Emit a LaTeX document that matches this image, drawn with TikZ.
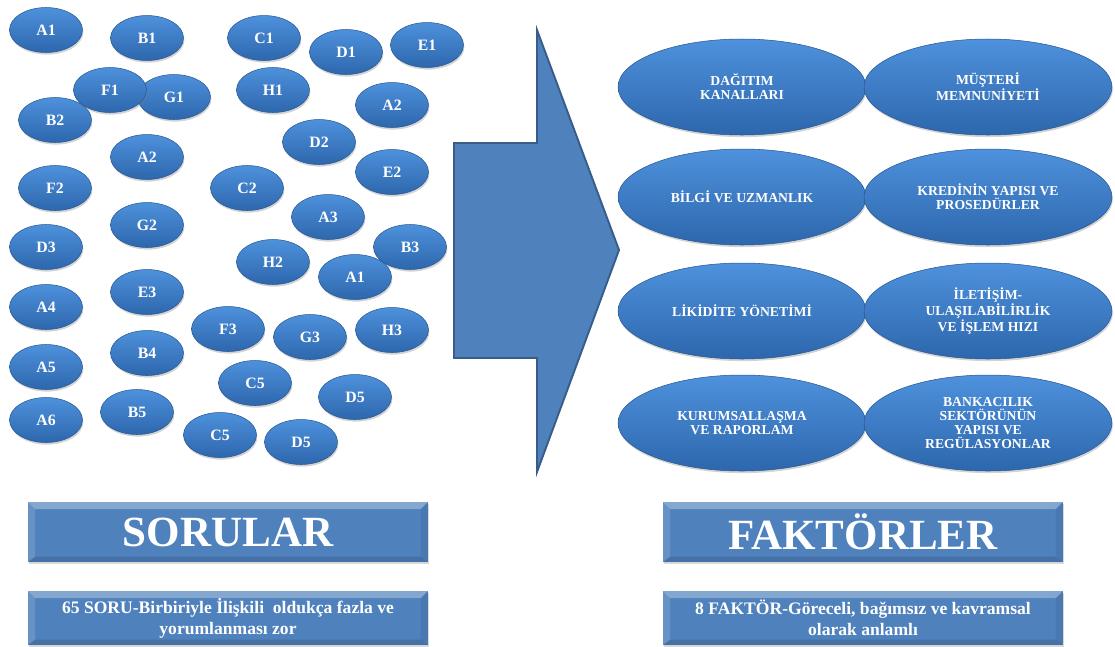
\documentclass[tikz,border=0pt]{standalone}
\usepackage{fontspec}
\setmainfont{Liberation Serif}
\usepackage{tikz}
\usetikzlibrary{shapes.geometric, shadows, positioning}
\definecolor{myblue}{HTML}{4F81BD}
\definecolor{mydarkblue}{HTML}{385D8A}
\definecolor{balltop}{HTML}{4E91DC}
\definecolor{ballbottom}{HTML}{2D67AD}
\tikzset{
	smallball/.style={ellipse, minimum width=1.46cm, minimum height=0.9cm, inner sep=0pt,
		top color=balltop, bottom color=ballbottom, draw=ballbottom!85!black, line width=0.3pt,
		drop shadow={shadow xshift=0.5pt, shadow yshift=-1.2pt, opacity=0.35},
		font=\fontsize{9}{10}\selectfont\bfseries, text=white}
}
\tikzset{
	bigball/.style={smallball, minimum width=4.96cm, minimum height=1.92cm, align=center,
		font=\fontsize{7.8}{8}\selectfont\bfseries}
}
\tikzset{
	bevelbox/.style={rectangle, minimum width=8cm, inner sep=0pt, fill=myblue, text=white, align=center,
		drop shadow={shadow xshift=0.8pt, shadow yshift=-1.2pt, opacity=0.3},
		path picture={
			\fill[white, opacity=0.3] (path picture bounding box.north west) -- (path picture bounding box.north east)
				-- ([shift={(-4pt,-4pt)}]path picture bounding box.north east) -- ([shift={(4pt,-4pt)}]path picture bounding box.north west) -- cycle;
			\fill[white, opacity=0.14] (path picture bounding box.north west) -- (path picture bounding box.south west)
				-- ([shift={(4pt,3pt)}]path picture bounding box.south west) -- ([shift={(4pt,-4pt)}]path picture bounding box.north west) -- cycle;
			\fill[black, opacity=0.06] (path picture bounding box.north east) -- (path picture bounding box.south east)
				-- ([shift={(-4pt,3pt)}]path picture bounding box.south east) -- ([shift={(-4pt,-4pt)}]path picture bounding box.north east) -- cycle;
			\fill[black, opacity=0.12] (path picture bounding box.south west) -- (path picture bounding box.south east)
				-- ([shift={(-4pt,3pt)}]path picture bounding box.south east) -- ([shift={(4pt,3pt)}]path picture bounding box.south west) -- cycle;
		}}
}

\begin{document}
\begin{tikzpicture}[x=0.02cm, y=-0.02cm]
      \useasboundingbox (0,0) rectangle (1115,646);
      % scattered questions
      \foreach \t/\x/\y [count=\i] in {A1/46/30, B1/147/38, C1/264/38, D1/346/52, E1/427/45,
          B2/55/120, G1/174/97, F1/110/90, H1/273/90, A2/392/105, D2/319/142, A2/147/157,
          E2/392/172, F2/55/188, C2/247/188, A3/328/217, G2/147/225, D3/46/247, B3/410/247,
          H2/273/262, A1/355/277, E3/147/292, A4/46/307, F3/228/329, G3/310/337, H3/392/330,
          B4/147/353, A5/46/367, C5/255/383, D5/355/397, B5/137/412, A6/46/420, C5/220/435, D5/301/442} {
        \node[smallball] (q\i) at (\x,\y) {\t};
      }
      % block arrow
      \draw[fill=myblue, draw=mydarkblue, line width=1.1pt, line join=miter]
        (454,143) -- (537,143) -- (537,30) -- (619,250) -- (537,472) -- (537,358) -- (454,358) -- cycle;
      % factors
      \node[bigball] (f1) at (742,87) {DAĞITIM\\KANALLARI};
      \node[bigball] (f2) at (988,87) {MÜŞTERİ\\MEMNUNİYETİ};
      \node[bigball] (f3) at (742,197) {BİLGİ VE UZMANLIK};
      \node[bigball] (f4) at (988,197) {KREDİNİN YAPISI VE\\PROSEDÜRLER};
      \node[bigball] (f5) at (742,311) {LİKİDİTE YÖNETİMİ};
      \node[bigball] (f6) at (988,311) {İLETİŞİM-\\ULAŞILABİLİRLİK\\VE İŞLEM HIZI};
      \node[bigball] (f7) at (742,423) {KURUMSALLAŞMA\\VE RAPORLAM};
      \node[bigball] (f8) at (988,423) {BANKACILIK\\SEKTÖRÜNÜN\\YAPISI VE\\REGÜLASYONLAR};
      % titles and notes
      \node[bevelbox, minimum height=1.2cm, font=\fontsize{24.5}{26}\selectfont\bfseries] (soru) at (228,532) {SORULAR};
      \node[bevelbox, minimum height=1.2cm, font=\fontsize{24.5}{26}\selectfont\bfseries] (faktor) at (863,532) {FAKTÖRLER};
      \node[bevelbox, minimum height=1.08cm, font=\fontsize{10}{12}\selectfont\bfseries] (sorunot) at (228,618)
        {65 SORU-Birbiriyle İlişkili~ oldukça fazla ve\\yorumlanması zor};
      \node[bevelbox, minimum height=1.08cm, font=\fontsize{10}{12}\selectfont\bfseries] (faktornot) at (863,618)
        {8 FAKTÖR-Göreceli, bağımsız ve kavramsal\\olarak anlamlı};
    \end{tikzpicture}
\end{document}
